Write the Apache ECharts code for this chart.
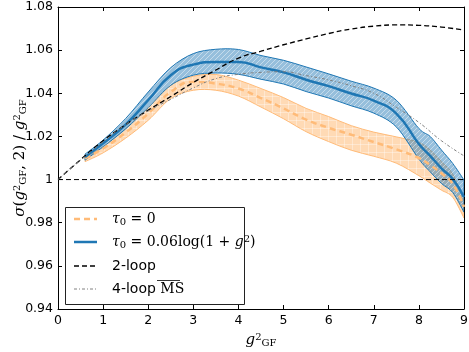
<!DOCTYPE html>
<html>
<head>
<meta charset="utf-8">
<script src="https://cdn.jsdelivr.net/npm/echarts@6/dist/echarts.min.js"></script>
<style>
    html, body {margin: 0; padding: 0; background: #fff;}
    #main {width: 469px; height: 352px;}
</style>
</head>
<body>
<div id="main"></div>
<script>
// 数据
var bandX = [0.6, 1, 1.5, 2, 2.5, 3, 3.5, 4, 4.5, 5, 5.5, 6, 6.5, 7, 7.5, 8, 8.25, 8.5, 8.75, 9];
var blueUpper = [1.0118, 1.0183, 1.0283, 1.0406, 1.0519, 1.0584, 1.0604, 1.0603, 1.0575, 1.0553, 1.0522, 1.0490, 1.0456, 1.0424, 1.0368, 1.0237, 1.0200, 1.0137, 1.0075, 0.9998];
var blueMid = [1.0105, 1.0168, 1.0255, 1.0368, 1.0484, 1.0533, 1.0545, 1.0545, 1.0520, 1.0497, 1.0463, 1.0433, 1.0399, 1.0366, 1.0306, 1.0165, 1.0110, 1.0052, 1.0003, 0.9919];
var blueLower = [1.0090, 1.0152, 1.0235, 1.0334, 1.0437, 1.0484, 1.0494, 1.0488, 1.0465, 1.0443, 1.0408, 1.0378, 1.0342, 1.0308, 1.0244, 1.0095, 1.0036, 0.9982, 0.9940, 0.9849];
var orangeUpper = [1.0105, 1.0152, 1.0236, 1.0334, 1.0437, 1.0479, 1.0487, 1.0461, 1.0422, 1.0380, 1.0330, 1.0292, 1.0250, 1.0220, 1.0198, 1.0172, 1.0137, 1.0083, 1.0025, 0.9905];
var orangeMid = [1.0098, 1.0144, 1.0218, 1.0306, 1.0406, 1.0453, 1.0445, 1.0422, 1.0378, 1.0330, 1.0278, 1.0240, 1.0208, 1.0174, 1.0140, 1.0100, 1.0067, 1.0029, 0.9980, 0.9873];
var orangeLower = [1.0083, 1.0124, 1.0192, 1.0275, 1.0376, 1.0414, 1.0414, 1.0387, 1.0336, 1.0282, 1.0222, 1.0176, 1.0136, 1.0108, 1.0076, 1.0018, 0.9984, 0.9951, 0.9918, 0.9822];

var loopX = [0, 0.5, 1, 1.5, 2, 2.5, 3, 3.5, 4, 4.5, 5, 5.5, 6, 6.5, 7, 7.5, 8, 8.5, 9];
var twoLoop = [1.0, 1.0092, 1.0180, 1.0255, 1.0322, 1.0385, 1.0450, 1.0508, 1.0563, 1.0595, 1.0625, 1.0652, 1.0677, 1.0698, 1.0711, 1.0717, 1.0715, 1.0707, 1.0693];
var fourLoop = [1.0, 1.0090, 1.0175, 1.0255, 1.0318, 1.0372, 1.0425, 1.0468, 1.0488, 1.0497, 1.0500, 1.0482, 1.0462, 1.0435, 1.0400, 1.0335, 1.0265, 1.0180, 1.0110];

var xTicks = [0, 1, 2, 3, 4, 5, 6, 7, 8, 9];
var yTicks = [0.94, 0.96, 0.98, 1.00, 1.02, 1.04, 1.06, 1.08];

function pairs(xs, ys) {
    var out = [];
    for (var i = 0; i < xs.length; i++) out.push([xs[i], ys[i]]);
    return out;
}

// 斜线/网格填充
function hatch(kind) {
    var c = document.createElement('canvas');
    var s = kind == 'blue' ? 5 : 8;
    c.width = s; c.height = s;
    var ctx = c.getContext('2d');
    if (kind == 'blue') {
        ctx.fillStyle = 'rgba(31,119,180,0.47)';
        ctx.fillRect(0, 0, s, s);
        ctx.strokeStyle = 'rgba(255,255,255,0.45)';
        ctx.lineWidth = 1;
        ctx.beginPath();
        ctx.moveTo(-1, s + 1); ctx.lineTo(s + 1, -1);
        ctx.moveTo(-1, 1); ctx.lineTo(1, -1);
        ctx.moveTo(s - 1, s + 1); ctx.lineTo(s + 1, s - 1);
        ctx.stroke();
    } else {
        ctx.fillStyle = 'rgba(255,187,120,0.55)';
        ctx.fillRect(0, 0, s, s);
        ctx.strokeStyle = 'rgba(255,255,255,0.35)';
        ctx.lineWidth = 1;
        ctx.beginPath();
        ctx.moveTo(0.5, 0); ctx.lineTo(0.5, s);
        ctx.moveTo(0, 0.5); ctx.lineTo(s, 0.5);
        ctx.stroke();
    }
    return {image: c, repeat: 'repeat'};
}

// catmull-rom -> bezier, pts already in pixels
function curvePath(pts, moveFirst) {
    var d = (moveFirst ? 'M' : 'L') + pts[0][0] + ' ' + pts[0][1];
    for (var i = 0; i < pts.length - 1; i++) {
        var p0 = pts[Math.max(i - 1, 0)], p1 = pts[i], p2 = pts[i + 1], p3 = pts[Math.min(i + 2, pts.length - 1)];
        var c1x = p1[0] + (p2[0] - p0[0]) / 6, c1y = p1[1] + (p2[1] - p0[1]) / 6;
        var c2x = p2[0] - (p3[0] - p1[0]) / 6, c2y = p2[1] - (p3[1] - p1[1]) / 6;
        d += 'C' + c1x + ' ' + c1y + ' ' + c2x + ' ' + c2y + ' ' + p2[0] + ' ' + p2[1];
    }
    return d;
}

var BLUE = '#1f77b4';
var ORANGE = '#ffbb78';
var SMOOTH = 0.5;

var myChart = echarts.init(document.getElementById('main'), null, {renderer: 'canvas'});

var tickFont = {fontFamily: 'DejaVu Sans', fontSize: 12.5, color: '#000'};
var mathRich = {
    i: {fontFamily: 'DejaVu Serif', fontStyle: 'italic', fontSize: 15, color: '#000'},
    n: {fontFamily: 'DejaVu Serif', fontSize: 15, color: '#000'},
    sup: {fontFamily: 'DejaVu Serif', fontSize: 10, color: '#000', verticalAlign: 'top', padding: [0, 0, 6, 0]},
    sub: {fontFamily: 'DejaVu Serif', fontSize: 10, color: '#000', verticalAlign: 'bottom', padding: [5, 0, 0, 0]}
};

function bandSeries(up, lo, edge, fill, z) {
    var rows = [];
    for (var i = 0; i < bandX.length; i++) rows.push([bandX[i], lo[i], up[i]]);
    return {
        type: 'custom', clip: true, z: z, silent: true,
        encode: {x: 0, y: [1, 2]},
        data: rows,
        renderItem: function (params, api) {
            if (params.dataIndex !== 0) return null;
            var top = [], bot = [];
            for (var j = 0; j < rows.length; j++) {
                top.push(api.coord([rows[j][0], rows[j][2]]));
                bot.push(api.coord([rows[j][0], rows[j][1]]));
            }
            bot.reverse();
            var d = curvePath(top, true) + curvePath(bot, false) + 'Z';
            return {
                type: 'path',
                shape: {pathData: d},
                style: {fill: fill, stroke: edge, lineWidth: 1}
            };
        }
    };
}

var series = [];
series.push(bandSeries(orangeUpper, orangeLower, ORANGE, hatch('orange'), 2));
series.push(bandSeries(blueUpper, blueLower, BLUE, hatch('blue'), 3));
series.push({
    name: 'τ0 = 0', type: 'line', data: pairs(bandX, orangeMid), smooth: SMOOTH,
    symbol: 'none', z: 4, lineStyle: {color: ORANGE, width: 2.5, type: [6, 4]}
});
series.push({
    name: 'τ0 = 0.06log(1 + g²)', type: 'line', data: pairs(bandX, blueMid), smooth: SMOOTH,
    symbol: 'none', z: 4, lineStyle: {color: BLUE, width: 2.5}
});
series.push({
    name: 'unity', type: 'line', data: [[0, 1], [9, 1]],
    symbol: 'none', z: 5, lineStyle: {color: '#000', width: 1, type: [5, 3]}
});
series.push({
    name: '2-loop', type: 'line', data: pairs(loopX, twoLoop), smooth: SMOOTH,
    symbol: 'none', z: 6, lineStyle: {color: '#000', width: 1.3, type: [5, 3]}
});
series.push({
    name: '4-loop MS', type: 'line', data: pairs(loopX, fourLoop), smooth: SMOOTH,
    symbol: 'none', z: 6, lineStyle: {color: '#808080', width: 1, type: [3, 2, 1, 2]}
});

// 图例 (drawn by hand, matplotlib style)
var LX = 65, LY = 207, rowY = [219, 242, 266, 289];
var legendGraphic = [{
    type: 'rect', shape: {x: LX + 0.5, y: LY + 0.5, width: 179, height: 97},
    style: {fill: '#fff', stroke: '#222', lineWidth: 1}, z: 100
}];
var sampleStyles = [
    {stroke: ORANGE, lineWidth: 2.5, lineDash: [6, 4]},
    {stroke: BLUE, lineWidth: 2.5},
    {stroke: '#000', lineWidth: 1.3, lineDash: [5, 3]},
    {stroke: '#808080', lineWidth: 1, lineDash: [3, 2, 1, 2]}
];
var legendRich = {
    i: {fontFamily: 'DejaVu Serif', fontStyle: 'italic', fontSize: 14, fill: '#000'},
    n: {fontFamily: 'DejaVu Serif', fontSize: 14, fill: '#000'},
    sub: {fontFamily: 'DejaVu Serif', fontSize: 10, fill: '#000', padding: [6, 0, 0, 0]},
    sup: {fontFamily: 'DejaVu Serif', fontSize: 10, fill: '#000', padding: [0, 0, 6, 0]},
    s: {fontFamily: 'DejaVu Sans', fontSize: 14, fill: '#000'},
    ms: {fontFamily: 'DejaVu Serif', fontSize: 14, fill: '#000'}
};
var legendTexts = [
    '{i|τ}{sub|0}{n| = 0}',
    '{i|τ}{sub|0}{n| = 0.06log(1 + }{i|g}{sup|2}{n|)}',
    '{s|2-loop}',
    '{s|4-loop }{ms|MS}'
];
for (var k = 0; k < 4; k++) {
    legendGraphic.push({
        type: 'line', shape: {x1: 74, y1: rowY[k], x2: 97, y2: rowY[k]},
        style: sampleStyles[k], z: 101
    });
    legendGraphic.push({
        type: 'text', x: 112, y: rowY[k], z: 101,
        style: {text: legendTexts[k], rich: legendRich, verticalAlign: 'middle', align: 'left'}
    });
}
// overline on MS
legendGraphic.push({
    type: 'line', shape: {x1: 157, y1: 280.5, x2: 180, y2: 280.5},
    style: {stroke: '#000', lineWidth: 0.8}, z: 102
});

var option = {
    animation: false,
    backgroundColor: '#fff',
    grid: {left: 58, right: 5, top: 7, bottom: 43, containLabel: false, outerBoundsMode: 'none'},
    xAxis: [{
        type: 'value', min: 0, max: 9, interval: 1, position: 'bottom',
        name: '{i|g}{sup|2}{sub|GF}', nameLocation: 'middle', nameGap: 23, nameMoveOverlap: false,
        nameTextStyle: {rich: mathRich},
        axisLine: {show: true, onZero: false, lineStyle: {color: '#000', width: 1}},
        axisTick: {show: true, inside: true, length: 4, lineStyle: {color: '#000'}},
        axisLabel: Object.assign({margin: 5, formatter: function (v) { return String(v); }}, tickFont),
        splitLine: {show: false}
    }, {
        type: 'value', min: 0, max: 9, interval: 1, position: 'top',
        axisLine: {show: true, onZero: false, lineStyle: {color: '#000', width: 1}},
        axisTick: {show: true, inside: true, length: 4, lineStyle: {color: '#000'}},
        axisLabel: {show: false}, splitLine: {show: false}
    }],
    yAxis: [{
        type: 'value', min: yTicks[0], max: yTicks[yTicks.length - 1], interval: 0.02, position: 'left',
        name: '{i|σ}{n|(}{i|g}{sup|2}{sub|GF}{n|, 2) / }{i|g}{sup|2}{sub|GF}',
        nameLocation: 'middle', nameGap: 30, nameRotate: 90, nameMoveOverlap: false,
        nameTextStyle: {rich: mathRich},
        axisLine: {show: true, onZero: false, lineStyle: {color: '#000', width: 1}},
        axisTick: {show: true, inside: true, length: 4, lineStyle: {color: '#000'}},
        axisLabel: Object.assign({margin: 5, formatter: function (v) { return String(+v.toFixed(2)); }}, tickFont),
        splitLine: {show: false}
    }, {
        type: 'value', min: yTicks[0], max: yTicks[yTicks.length - 1], interval: 0.02, position: 'right',
        axisLine: {show: true, onZero: false, lineStyle: {color: '#000', width: 1}},
        axisTick: {show: true, inside: true, length: 4, lineStyle: {color: '#000'}},
        axisLabel: {show: false}, splitLine: {show: false}
    }],
    series: series,
    graphic: legendGraphic
};
myChart.setOption(option);
</script>
</body>
</html>
